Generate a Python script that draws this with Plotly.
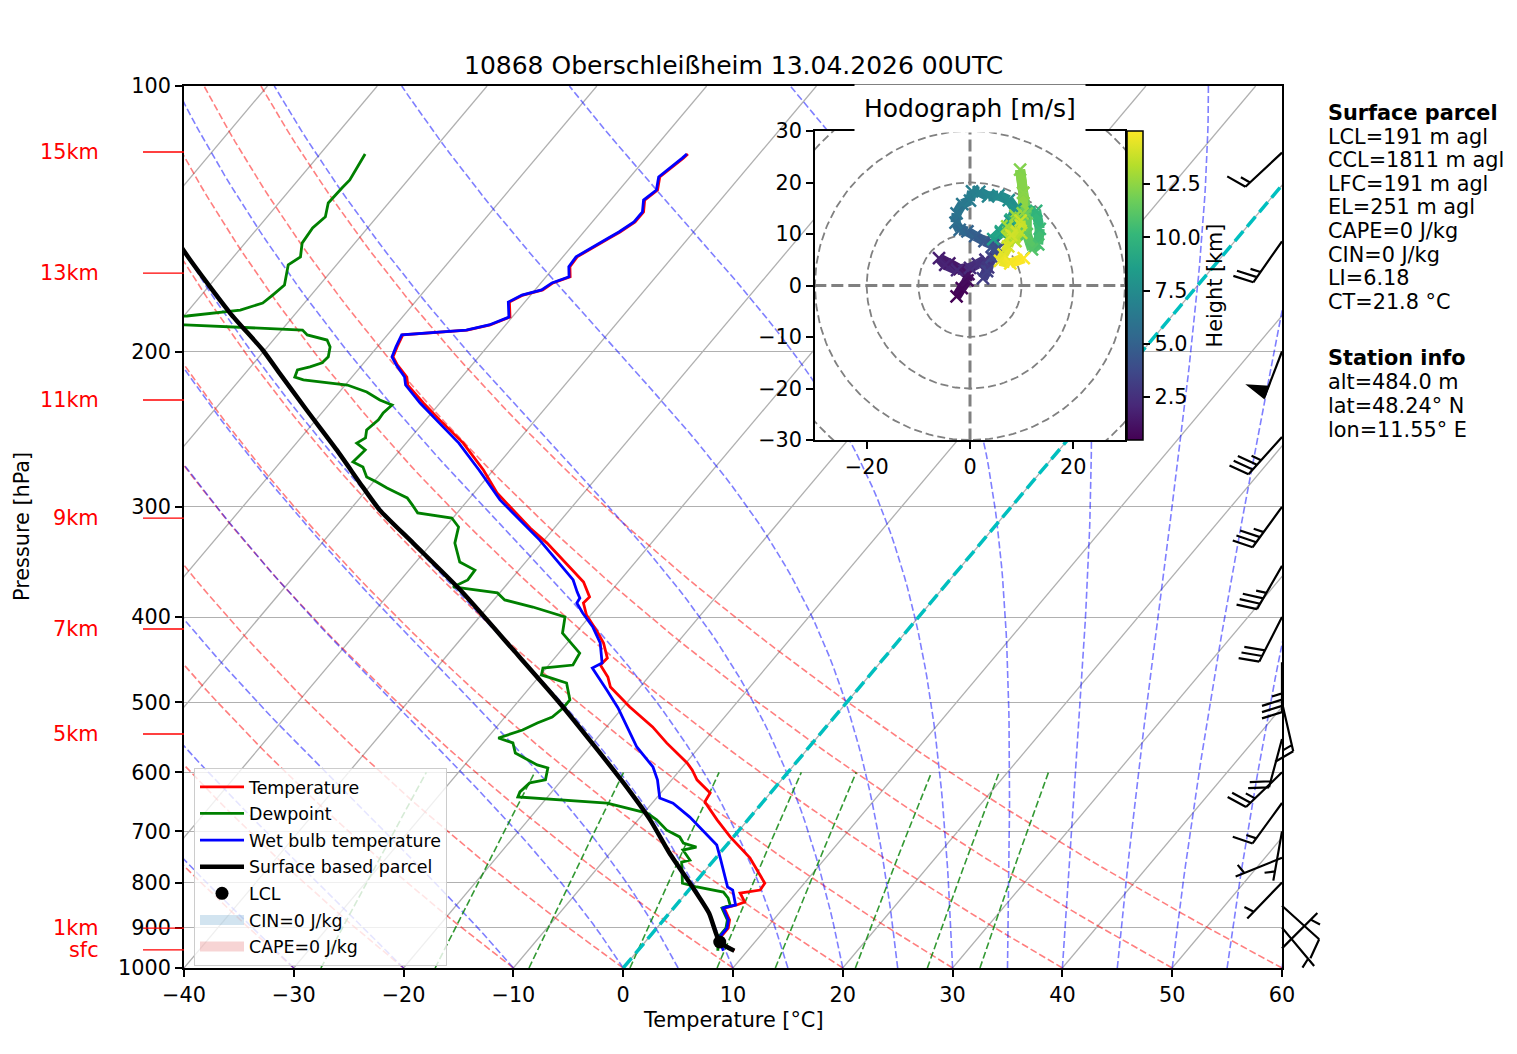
import numpy as np
import plotly.graph_objects as go
from plotly.colors import sample_colorscale

FONT = "DejaVu Sans"
PAGE_OFF = 8                             # page body margin of the browser
W, H = 1517 - PAGE_OFF, 1054 - PAGE_OFF
PL, PR, PT, PB = 184, 1282, 86, 968      # plot area in screenshot pixels
PW, PH = PR - PL, PB - PT
SKEW = 67.6                              # degC shift per decade of pressure
FS = 20.8                                # normal text size

# ---------------- sounding ----------------
temp_p = [119.4, 120.7, 126.8, 131.2, 134.7, 138.9, 142.6, 146.4, 148.7, 156.2,
          160.3, 164.6, 167.2, 170.3, 172.6, 175.8, 182.8, 186.6, 189.1, 191.5,
          197.6, 202.8, 207.1, 213.8, 218.3, 228.8, 241.1, 254.0, 272.5, 289.3,
          317.1, 329.8, 365.0, 379.6, 385.6, 397.9, 416.0, 428.1, 445.2, 453.4,
          467.8, 480.2, 505.9, 532.9, 555.6, 585.4, 596.2, 611.9, 633.1, 648.1,
          679.3, 710.2, 750.2, 801.5, 815.9, 822.2, 841.6, 848.2, 855.1, 882.0,
          901.0, 922.3, 936.8, 956.0]
temp_c = [-56.5, -56.6, -57.3, -56.5, -56.9, -56.1, -56.1, -56.7, -57.2, -58.7,
          -58.6, -57.8, -58.9, -59.3, -60.7, -61.4, -60.2, -61.4, -63.1, -68.6,
          -68.2, -67.8, -66.8, -65.0, -64.3, -61.5, -58.2, -54.8, -50.9, -47.9,
          -42.2, -39.5, -33.2, -31.5, -31.6, -30.4, -28.1, -26.7, -25.2, -25.3,
          -23.7, -22.7, -19.4, -15.8, -13.3, -9.9, -8.9, -7.7, -5.5, -5.3,
          -2.8, -0.3, 3.1, 6.4, 6.5, 4.9, 6.0, 5.5, 4.6, 6.0,
          6.5, 6.5, 7.0, 8.8]

dew_p = [119.4, 123.9, 127.8, 130.5, 135.7, 140.7, 144.9, 150.7, 156.2, 159.5,
         168.1, 172.6, 176.2, 179.5, 182.3, 184.0, 185.5, 186.6, 189.1, 191.5,
         194.1, 197.6, 202.8, 206.0, 208.2, 209.9, 213.8, 215.4, 218.3, 222.3,
         227.0, 230.0, 234.8, 239.1, 245.5, 250.6, 254.0, 258.6, 266.8, 270.4,
         277.5, 281.2, 285.6, 289.3, 293.1, 298.5, 304.8, 308.9, 316.2, 329.8,
         346.5, 353.9, 363.1, 369.8, 375.6, 382.6, 389.7, 400.0, 417.1, 439.5,
         453.4, 457.0, 465.3, 475.2, 496.7, 507.2, 519.3, 527.5, 537.3, 548.6,
         555.6, 570.5, 588.5, 593.1, 611.9, 616.8, 631.5, 639.9, 650.2, 667.4,
         679.3, 697.7, 710.2, 721.7, 729.3, 734.9, 754.4, 758.3, 801.5, 809.4,
         820.1, 833.2, 848.2, 855.1, 882.0, 901.0, 922.3, 936.8, 956.0]
dew_c = [-85.9, -85.6, -85.3, -85.4, -85.5, -84.7, -85.0, -84.8, -83.9, -84.4,
         -83.2, -83.5, -83.8, -85.3, -89.7, -100.0, -100.0, -89.2, -78.1, -77.3,
         -75.1, -74.3, -73.7, -73.8, -74.6, -75.5, -75.2, -74.2, -69.8, -67.5,
         -65.7, -64.2, -64.4, -64.3, -64.6, -64.1, -64.5, -63.2, -63.4, -62.1,
         -61.0, -59.7, -58.3, -57.0, -55.7, -54.7, -53.6, -50.1, -48.8, -47.9,
         -46.0, -44.0, -43.9, -44.7, -40.2, -39.0, -35.9, -32.2, -31.2, -28.1,
         -27.8, -30.3, -29.9, -27.0, -25.4, -25.4, -25.7, -26.6, -27.4, -29.0,
         -27.3, -26.3, -23.4, -22.2, -21.5, -22.7, -22.9, -22.7, -14.1, -9.7,
         -8.3, -6.6, -4.9, -4.1, -2.6, -3.6, -2.2, -2.8, -1.1, 0.5,
         3.3, 4.2, 4.9, 4.4, 5.8, 6.3, 6.3, 6.7, 7.3]

wet_p = [119.4, 120.7, 126.8, 131.2, 134.7, 138.9, 142.6, 146.4, 148.7, 156.2,
         160.3, 164.6, 167.2, 170.3, 172.6, 175.8, 182.8, 186.6, 189.1, 191.5,
         197.6, 202.8, 207.1, 213.8, 218.3, 228.8, 241.1, 254.0, 272.5, 294.6,
         327.2, 363.1, 374.8, 380.7, 385.6, 395.8, 410.6, 428.1, 451.0, 457.0,
         484.0, 507.2, 541.3, 561.6, 591.6, 611.9, 641.6, 650.2, 674.4, 697.7,
         725.5, 750.2, 809.4, 815.9, 848.2, 855.1, 882.0, 901.0, 922.3, 949.1,
         956.0]
wet_c = [-56.6, -56.7, -57.4, -56.6, -57.0, -56.2, -56.2, -56.8, -57.3, -58.8,
         -58.7, -57.9, -59.0, -59.4, -60.8, -61.5, -60.3, -61.5, -63.2, -68.7,
         -68.3, -67.9, -66.9, -65.2, -64.5, -61.8, -58.5, -55.2, -51.3, -47.1,
         -40.4, -34.3, -33.0, -32.3, -32.2, -30.9, -28.9, -27.0, -25.3, -25.8,
         -22.8, -20.4, -17.4, -15.7, -12.7, -11.3, -9.7, -8.1, -5.5, -3.4,
         -0.9, 0.4, 3.3, 4.0, 5.4, 4.5, 5.9, 6.4, 6.4, 7.5,
         7.8]

parcel_p = [956.0, 934.4, 866.3, 809.4, 740.7, 679.3, 615.3, 558.5, 500.6, 435.8,
            372.8, 329.8, 302.4, 284.8, 258.6, 233.0, 211.6, 199.2, 180.9, 154.6, 119.4]
parcel_c = [8.8, 6.8, 3.6, 0.1, -4.6, -8.9, -14.3, -19.8, -26.1, -34.4,
            -43.8, -51.7, -57.3, -60.6, -65.8, -71.6, -76.9, -80.2, -86.0, -94.7, -108.0]
lcl_p, lcl_c = 934.4, 6.8

# wind barbs (knots, direction the wind blows from)
wind_p = [119, 150, 200, 250, 300, 350, 400, 450, 500, 550, 600, 650, 700, 750, 800, 850, 900, 950]
wind_kt = [15, 25, 50, 35, 35, 35, 30, 35, 15, 20, 25, 15, 5, 5, 5, 10, 5, 5]
wind_dir = [227, 215, 201, 222, 216, 210, 207, 180, 167, 195, 226, 216, 190, 248, 224, 132, 140, 45]

# hodograph (m/s) and height (km)
hodo_u = [-2.6, -1.6, -0.5, -0.3, -2.0, -4.0, -6.0, -4.8, -2.5, 0.0,
          1.5, 3.0, 3.5, 2.5, 3.3, 4.2, 5.5, 4.5, 2.8, 1.0,
          -0.5, -2.0, -2.8, -2.6, -1.5, 0.0, 0.4, 1.8, 3.5, 5.5,
          7.5, 8.8, 7.8, 6.0, 4.5, 6.0, 8.0, 10.5, 12.8, 13.5,
          13.2, 12.0, 11.0, 11.0, 10.3, 9.7, 10.3, 10.2, 8.8, 7.2,
          7.3, 8.8, 9.9, 9.8, 8.0, 7.4, 6.5, 5.8, 7.8, 10.4]
hodo_v = [-2.1, -0.5, 1.0, 2.2, 3.2, 4.3, 5.3, 4.0, 3.0, 3.4,
          4.2, 5.0, 3.5, 1.4, 2.8, 5.5, 7.2, 7.8, 8.6, 9.6,
          10.5, 10.8, 12.2, 14.0, 15.8, 16.5, 18.3, 18.2, 17.3, 17.5,
          16.6, 14.8, 12.5, 10.2, 9.0, 10.5, 12.8, 14.2, 14.5, 11.0,
          8.0, 7.0, 10.0, 14.0, 18.0, 22.5, 18.0, 14.0, 13.5, 11.5,
          9.3, 8.6, 10.2, 12.6, 9.8, 7.6, 6.0, 4.8, 4.3, 5.3]
hodo_h = [0.5, 0.7, 0.9, 1.1, 1.3, 1.5, 1.7, 1.9, 2.1, 2.3,
          2.5, 2.7, 2.9, 3.1, 3.3, 3.6, 3.9, 4.2, 4.5, 4.8,
          5.1, 5.4, 5.7, 6.0, 6.3, 6.5, 6.7, 6.9, 7.1, 7.4,
          7.6, 7.9, 8.2, 8.5, 8.7, 9.0, 9.3, 9.6, 9.9, 10.3,
          10.7, 11.0, 11.3, 11.6, 11.9, 12.2, 12.4, 12.6, 12.8, 13.0,
          13.2, 13.4, 13.6, 13.8, 14.0, 14.2, 14.4, 14.6, 14.8, 15.0]
hodo_hmin, hodo_hmax = 0.48, 15.0
hodo_rings = [10, 20, 30, 40]

height_labels = ["15km", "13km", "11km", "9km", "7km", "5km", "1km", "sfc"]
height_p = [118.8, 163.0, 227.0, 309.0, 412.7, 542.9, 901.0, 954.0]

parcel_text = ["<b>Surface parcel</b>", "LCL=191 m agl", "CCL=1811 m agl", "LFC=191 m agl",
               "EL=251 m agl", "CAPE=0 J/kg", "CIN=0 J/kg", "LI=6.18", "CT=21.8 °C"]
station_text = ["<b>Station info</b>", "alt=484.0 m", "lat=48.24° N", "lon=11.55° E"]

# background line families
isotherm_c = list(range(-110, 61, 10))
dry_t0 = list(range(-40, 61, 10))
moist_t0 = [-40, -30, -20, -10] + list(range(0, 61, 5))
mix_w = [0.0004, 0.001, 0.002, 0.004, 0.007, 0.01, 0.016, 0.024, 0.032]

RD, CP, LV, EPS = 287.04749, 1004.6662, 2.50084e6, 0.6219569


def skew(t, p):
    t = np.asarray(t, dtype=float)
    p = np.asarray(p, dtype=float)
    return t + SKEW * np.log10(1000.0 / p)


def fx(px):
    return (px - PL) / PW


def fy(py):
    return (PB - py) / PH


def p_paper(p):
    return 3.0 - np.log10(p)


def moist_curve(t0, pres):
    def rate(p, t):
        es = 6.112 * np.exp(17.67 * (t - 273.15) / (t - 29.65))
        rs = EPS * es / (p - es)
        return (RD * t + LV * rs) / (CP + LV * LV * rs * EPS / (RD * t * t)) / p
    t = t0 + 273.15
    out = [t]
    for p1, p2 in zip(pres[:-1], pres[1:]):
        h = p2 - p1
        k1 = rate(p1, t)
        k2 = rate(p1 + h / 2, t + h / 2 * k1)
        k3 = rate(p1 + h / 2, t + h / 2 * k2)
        k4 = rate(p2, t + h * k3)
        t = t + h / 6 * (k1 + 2 * k2 + 2 * k3 + k4)
        out.append(t)
    return np.array(out) - 273.15


def mixing_td(w, p):
    e = p * w / (EPS + w)
    a = np.log(e / 6.112)
    return 243.5 * a / (17.67 - a)


def barb_shapes(p, kt, bearing, L=50.0):
    th = np.radians(bearing)
    d = np.array([np.sin(th), np.cos(th)])
    r = np.array([d[1], -d[0]])
    base = np.array([1.0, p_paper(p)])

    def pt(a, b):
        v = a * d + b * r
        q = base + np.array([v[0] / PW, v[1] / PH])
        return "%.5f,%.5f" % (q[0], q[1])

    hgt, wid, spc = 0.4 * L, 0.25 * L, 0.125 * L
    n = int(5 * round(kt / 5.0))
    flags, rest = divmod(n, 50)
    fulls, rest = divmod(rest, 10)
    path = "M%s L%s" % (pt(0, 0), pt(L, 0))
    tris = []
    off = L
    for i in range(flags):
        if off != L:
            off += spc / 2
        tris.append("M%s L%s L%s Z" % (pt(off, 0), pt(off - wid / 2, hgt), pt(off - wid, 0)))
        off -= wid + spc
    for i in range(fulls):
        path += " M%s L%s" % (pt(off, 0), pt(off + wid / 2, hgt))
        off -= spc
    if rest >= 5:
        if off == L:
            off -= 1.5 * spc
        path += " M%s L%s" % (pt(off, 0), pt(off + wid / 4, hgt / 2))
    out = [dict(type="path", xref="paper", yref="paper", path=path,
                line=dict(color="black", width=2.2))]
    for tpath in tris:
        out.append(dict(type="path", xref="paper", yref="paper", path=tpath,
                        fillcolor="black", line=dict(color="black", width=1.5)))
    return out


fig = go.Figure()
bg = dict(mode="lines", showlegend=False, hoverinfo="skip")

for t in isotherm_c:
    fig.add_trace(go.Scatter(x=skew([t, t], [1000, 100]), y=[1000, 100],
                             line=dict(color="#b0b0b0", width=1.3), **bg))

pres_full = np.geomspace(1000, 100, 80)
for t0 in dry_t0:
    tt = (t0 + 273.15) * (pres_full / 1000.0) ** (RD / CP) - 273.15
    fig.add_trace(go.Scatter(x=skew(tt, pres_full), y=pres_full,
                             line=dict(color="rgba(255,0,0,0.5)", width=1.6, dash="7px,3px"), **bg))

for t0 in moist_t0:
    tt = moist_curve(t0, pres_full)
    fig.add_trace(go.Scatter(x=skew(tt, pres_full), y=pres_full,
                             line=dict(color="rgba(0,0,255,0.5)", width=1.6, dash="7px,3px"), **bg))

pres_mix = np.linspace(1000, 600, 12)
for w in mix_w:
    tt = mixing_td(w, pres_mix)
    fig.add_trace(go.Scatter(x=skew(tt, pres_mix), y=pres_mix,
                             line=dict(color="rgba(0,128,0,0.8)", width=1.6, dash="7px,3px"), **bg))

fig.add_trace(go.Scatter(x=skew([0, 0], [1000, 100]), y=[1000, 100],
                         line=dict(color="rgb(0,191,191)", width=3.5, dash="13px,6px"), **bg))

# profiles
fig.add_trace(go.Scatter(x=skew(temp_c, temp_p), y=temp_p, mode="lines", name="Temperature",
                         line=dict(color="red", width=2.8), legendgroup="a"))
fig.add_trace(go.Scatter(x=skew(dew_c, dew_p), y=dew_p, mode="lines", name="Dewpoint",
                         line=dict(color="green", width=2.8), legendgroup="b"))
fig.add_trace(go.Scatter(x=skew(wet_c, wet_p), y=wet_p, mode="lines", name="Wet bulb temperature",
                         line=dict(color="blue", width=2.8), legendgroup="c"))
fig.add_trace(go.Scatter(x=skew(parcel_c, parcel_p), y=parcel_p, mode="lines", name="Surface based parcel",
                         line=dict(color="black", width=4.5, shape="spline", smoothing=0.6), legendgroup="d"))
fig.add_trace(go.Scatter(x=skew([lcl_c], [lcl_p]), y=[lcl_p], mode="markers", name="LCL",
                         marker=dict(color="black", size=13), legendgroup="e"))
fig.add_trace(go.Scatter(x=[None], y=[None], mode="lines", name="CIN=0 J/kg",
                         line=dict(color="rgba(31,119,180,0.2)", width=11), legendgroup="f"))
fig.add_trace(go.Scatter(x=[None], y=[None], mode="lines", name="CAPE=0 J/kg",
                         line=dict(color="rgba(214,39,40,0.2)", width=11), legendgroup="g"))

# hodograph
hb = dict(mode="lines", showlegend=False, hoverinfo="skip", xaxis="x2", yaxis="y2")
ang = np.linspace(0, 2 * np.pi, 240)
for rr in hodo_rings:
    fig.add_trace(go.Scatter(x=rr * np.cos(ang), y=rr * np.sin(ang),
                             line=dict(color="gray", width=1.8, dash="8px,4px"), **hb))
fig.add_trace(go.Scatter(x=[-40, 40], y=[0, 0], line=dict(color="gray", width=3, dash="12px,5px"), **hb))
fig.add_trace(go.Scatter(x=[0, 0], y=[-40, 40], line=dict(color="gray", width=3, dash="12px,5px"), **hb))

frac = [(h - hodo_hmin) / (hodo_hmax - hodo_hmin) for h in hodo_h]
mid = [(a + b) / 2 for a, b in zip(frac[:-1], frac[1:])]
seg_col = sample_colorscale("Viridis", mid)
for i in range(len(hodo_u) - 1):
    fig.add_trace(go.Scatter(x=hodo_u[i:i + 2], y=hodo_v[i:i + 2],
                             line=dict(color=seg_col[i], width=10), **hb))
fig.add_trace(go.Scatter(
    x=hodo_u, y=hodo_v, mode="markers", xaxis="x2", yaxis="y2", showlegend=False, hoverinfo="skip",
    marker=dict(size=12, symbol="x-thin", line=dict(width=2.5, color=sample_colorscale("Viridis", frac)),
                color=hodo_h, colorscale="Viridis", cmin=hodo_hmin, cmax=hodo_hmax, showscale=True,
                colorbar=dict(x=fx(1127), xanchor="left", y=fy(285.5), yanchor="middle",
                              len=309, lenmode="pixels", thickness=16, xpad=0, ypad=0,
                              outlinewidth=1.5, outlinecolor="black",
                              tickvals=[2.5, 5.0, 7.5, 10.0, 12.5],
                              ticktext=["2.5", "5.0", "7.5", "10.0", "12.5"],
                              ticks="outside", ticklen=7, tickwidth=1.5, tickcolor="black",
                              tickfont=dict(size=FS, family=FONT, color="black"),
                              title=dict(text="Height [km]", side="right",
                                         font=dict(size=FS, family=FONT, color="black"))))))

shapes = [dict(type="rect", xref="x2", yref="y2", x0=-30, x1=30, y0=-30, y1=30,
               fillcolor="white", line=dict(width=0), layer="below")]
for p in height_p:
    shapes.append(dict(type="line", xref="paper", yref="paper", x0=fx(143), x1=0,
                       y0=p_paper(p), y1=p_paper(p), line=dict(color="red", width=1.3)))
for p, s, dd in zip(wind_p, wind_kt, wind_dir):
    shapes += barb_shapes(p, s, dd)

ann = []
base_ann = dict(xref="paper", yref="paper", showarrow=False, xanchor="center", yanchor="middle")
ann.append(dict(base_ann, text="10868 Oberschleißheim 13.04.2026 00UTC", x=0.5, y=fy(65),
                font=dict(size=25)))
ann.append(dict(base_ann, text="Hodograph [m/s]", x=fx(970), y=fy(108), font=dict(size=25),
                bgcolor="white", borderpad=9))
ann.append(dict(base_ann, text="Temperature [°C]", x=0.5, y=fy(1020), font=dict(size=FS)))
ann.append(dict(base_ann, text="Pressure [hPa]", x=fx(22), y=0.5, textangle=-90, font=dict(size=FS)))
for lab, p in zip(height_labels, height_p):
    ann.append(dict(base_ann, text=lab, x=fx(101), y=p_paper(p), xanchor="right",
                    font=dict(size=FS, color="red")))
for i, line in enumerate(parcel_text):
    ann.append(dict(base_ann, text=line, x=fx(1326), y=fy(113 + 23.6 * i), xanchor="left",
                    font=dict(size=FS)))
for i, line in enumerate(station_text):
    ann.append(dict(base_ann, text=line, x=fx(1326), y=fy(358 + 24.0 * i), xanchor="left",
                    font=dict(size=FS)))

axis_common = dict(ticks="outside", ticklen=7, tickwidth=1.6, tickcolor="black", showline=True,
                   linecolor="black", linewidth=1.6, mirror=True, zeroline=False,
                   tickfont=dict(size=FS, family=FONT, color="black"))

fig.update_layout(
    width=W, height=H,
    margin=dict(l=PL - PAGE_OFF, r=W + PAGE_OFF - PR, t=PT - PAGE_OFF, b=H + PAGE_OFF - PB),
    paper_bgcolor="white", plot_bgcolor="white",
    font=dict(family=FONT, color="black"),
    xaxis=dict(range=[-40, 60], tickvals=list(range(-40, 61, 10)), showgrid=False, **axis_common),
    yaxis=dict(type="log", range=[3, 2], tickvals=list(range(100, 1001, 100)),
               ticktext=[str(v) for v in range(100, 1001, 100)],
               showgrid=True, gridcolor="#b0b0b0", gridwidth=1.3, **axis_common),
    xaxis2=dict(domain=[fx(815), fx(1125)], range=[-30, 30], tickvals=[-20, 0, 20], anchor="y2",
                showgrid=False, **axis_common),
    yaxis2=dict(domain=[fy(440), fy(131)], range=[-30, 30], tickvals=list(range(-30, 31, 10)),
                anchor="x2", showgrid=False, **axis_common),
    legend=dict(x=fx(194), y=fy(768), xanchor="left", yanchor="top",
                bgcolor="rgba(255,255,255,0.8)", bordercolor="#cccccc", borderwidth=1,
                font=dict(size=17.4, family=FONT, color="black"), tracegroupgap=1,
                itemwidth=44),
    shapes=shapes,
    annotations=ann,
)

fig.write_html("out.html")
